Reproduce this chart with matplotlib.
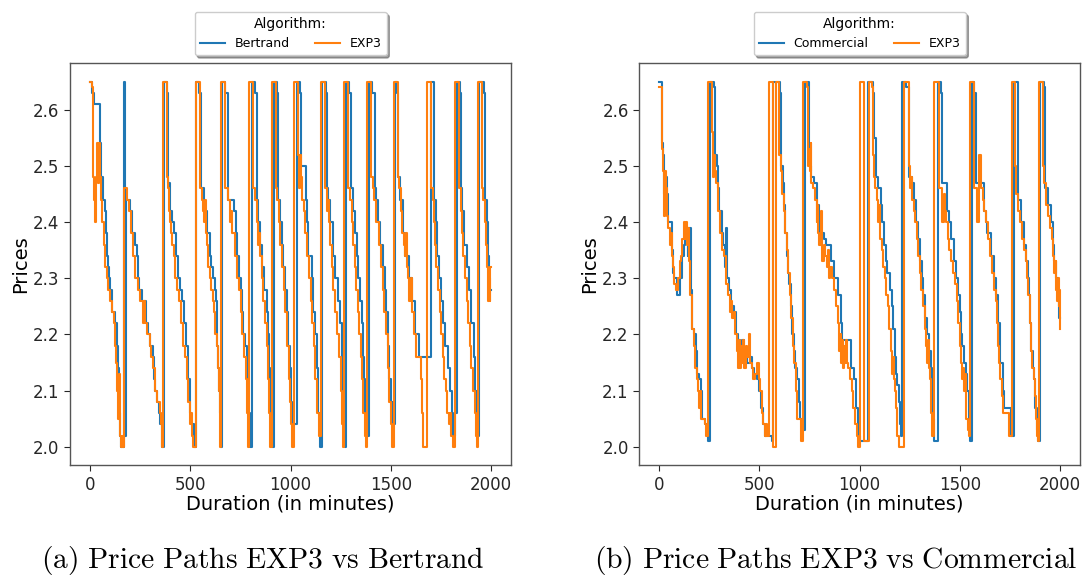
import numpy as np
import matplotlib
matplotlib.use("Agg")
import matplotlib.pyplot as plt

plt.rcParams['mathtext.fontset'] = 'cm'
plt.rcParams['font.family'] = ['DejaVu Sans']

# ---- data: (minute, price) step knots ----
bertrand_a = [
    (0, 2.65), (10, 2.63), (20, 2.61), (48, 2.54), (57, 2.48), (63, 2.44), (73, 2.42), (80, 2.38), (85, 2.34),
    (90, 2.32), (96, 2.30), (101, 2.28), (110, 2.24), (123, 2.22), (133, 2.18), (138, 2.14), (143, 2.06),
    (150, 2.02), (155, 2.00), (168, 2.65), (174, 2.02), (180, 2.44), (198, 2.42), (209, 2.38), (223, 2.36),
    (234, 2.34), (239, 2.30), (244, 2.28), (259, 2.26), (278, 2.22), (289, 2.20), (301, 2.18), (314, 2.16),
    (319, 2.12), (326, 2.10), (336, 2.08), (342, 2.06), (351, 2.04), (361, 2.00),
    (367, 2.65), (384, 2.63), (389, 2.47), (397, 2.42), (409, 2.40), (419, 2.38), (431, 2.34), (439, 2.30),
    (447, 2.28), (459, 2.26), (469, 2.22), (480, 2.18), (489, 2.12), (497, 2.06), (505, 2.04), (519, 2.00),
    (530, 2.65), (542, 2.63), (552, 2.46), (569, 2.44), (575, 2.42), (585, 2.38), (597, 2.34), (605, 2.32),
    (613, 2.30), (622, 2.28), (627, 2.26), (633, 2.18), (640, 2.14), (644, 2.10), (648, 2.06), (653, 2.00),
    (660, 2.65), (673, 2.63), (686, 2.44), (720, 2.42), (726, 2.38), (731, 2.34), (743, 2.30), (753, 2.28),
    (760, 2.24), (765, 2.20), (773, 2.18), (781, 2.14), (786, 2.10), (790, 2.06), (798, 2.00),
    (806, 2.65), (823, 2.63), (831, 2.44), (840, 2.40), (848, 2.36), (860, 2.32), (869, 2.28), (881, 2.24),
    (889, 2.20), (894, 2.14), (898, 2.10), (902, 2.04), (906, 2.00),
    (916, 2.65), (931, 2.63), (939, 2.44), (948, 2.40), (956, 2.36), (964, 2.32), (972, 2.28), (981, 2.24),
    (989, 2.18), (995, 2.14), (1000, 2.08), (1006, 2.04),
    (1031, 2.65), (1047, 2.63), (1052, 2.50), (1075, 2.44), (1081, 2.40), (1089, 2.34), (1106, 2.30),
    (1114, 2.24), (1122, 2.20), (1130, 2.14), (1139, 2.06), (1147, 2.00),
    (1159, 2.65), (1177, 2.63), (1182, 2.46), (1189, 2.44), (1197, 2.40), (1214, 2.34), (1222, 2.30),
    (1235, 2.26), (1247, 2.22), (1255, 2.16), (1263, 2.10), (1268, 2.04), (1273, 2.00),
    (1278, 2.65), (1292, 2.63), (1302, 2.46), (1313, 2.42), (1322, 2.38), (1330, 2.34), (1338, 2.30),
    (1347, 2.26), (1355, 2.22), (1360, 2.16), (1365, 2.12), (1372, 2.06), (1378, 2.02),
    (1390, 2.65), (1405, 2.63), (1420, 2.46), (1426, 2.44), (1436, 2.40), (1448, 2.36), (1460, 2.32),
    (1470, 2.28), (1476, 2.24), (1486, 2.18), (1493, 2.12), (1503, 2.08), (1510, 2.04),
    (1523, 2.65), (1530, 2.63), (1536, 2.48), (1548, 2.44), (1559, 2.38), (1573, 2.34), (1589, 2.30),
    (1606, 2.26), (1623, 2.20), (1639, 2.16),
    (1700, 2.65), (1714, 2.63), (1718, 2.44), (1725, 2.40), (1731, 2.34), (1742, 2.30), (1752, 2.26),
    (1760, 2.22), (1772, 2.18), (1785, 2.14), (1797, 2.10), (1806, 2.06), (1812, 2.02), (1818, 2.06),
    (1830, 2.65), (1847, 2.63), (1850, 2.46), (1855, 2.42), (1864, 2.36), (1880, 2.32), (1892, 2.28),
    (1902, 2.22), (1913, 2.16), (1922, 2.10), (1930, 2.04), (1936, 2.02),
    (1942, 2.65), (1963, 2.63), (1972, 2.44), (1980, 2.40), (1985, 2.34), (1992, 2.28), (2000, 2.28),
]

exp3_a = [
    (0, 2.65), (8, 2.64), (14, 2.48), (19, 2.44), (26, 2.40), (31, 2.48), (35, 2.54), (39, 2.47), (43, 2.54),
    (48, 2.48), (54, 2.44), (62, 2.40), (70, 2.36), (77, 2.32), (84, 2.30), (92, 2.28), (100, 2.26),
    (108, 2.24), (118, 2.22), (126, 2.18), (131, 2.15), (135, 2.10), (139, 2.05), (143, 2.13), (147, 2.02),
    (152, 2.00), (158, 2.02), (165, 2.00), (171, 2.46), (186, 2.44), (196, 2.42), (206, 2.38), (216, 2.34),
    (226, 2.30), (238, 2.28), (250, 2.26), (262, 2.22), (268, 2.26), (274, 2.22), (284, 2.20), (298, 2.18),
    (306, 2.16), (314, 2.14), (326, 2.10), (336, 2.08), (347, 2.06), (355, 2.04), (360, 2.00),
    (364, 2.65), (382, 2.48), (389, 2.46), (395, 2.42), (400, 2.40), (406, 2.38), (410, 2.36), (418, 2.34),
    (425, 2.30), (435, 2.28), (445, 2.26), (455, 2.22), (465, 2.18), (475, 2.16), (483, 2.12), (490, 2.08),
    (498, 2.04), (505, 2.06), (510, 2.02), (515, 2.00),
    (527, 2.65), (547, 2.46), (557, 2.44), (562, 2.42), (566, 2.40), (572, 2.44), (576, 2.38), (583, 2.36),
    (590, 2.32), (597, 2.30), (605, 2.28), (612, 2.26), (618, 2.24), (625, 2.20), (632, 2.18), (638, 2.14),
    (642, 2.10), (646, 2.06), (650, 2.00),
    (653, 2.65), (673, 2.46), (688, 2.44), (697, 2.40), (703, 2.42), (710, 2.38), (722, 2.34), (735, 2.30),
    (745, 2.28), (752, 2.24), (760, 2.20), (768, 2.16), (776, 2.12), (782, 2.06), (786, 2.00),
    (793, 2.65), (815, 2.46), (823, 2.44), (832, 2.40), (838, 2.36), (843, 2.38), (848, 2.34), (856, 2.30),
    (865, 2.26), (873, 2.22), (881, 2.18), (889, 2.12), (895, 2.06), (900, 2.00),
    (906, 2.65), (928, 2.46), (935, 2.44), (943, 2.40), (950, 2.36), (958, 2.32), (966, 2.28), (975, 2.24),
    (983, 2.18), (991, 2.12), (997, 2.08), (1001, 2.04), (1008, 2.00),
    (1017, 2.65), (1039, 2.52), (1044, 2.46), (1048, 2.52), (1052, 2.48), (1058, 2.44), (1066, 2.42),
    (1073, 2.38), (1081, 2.34), (1090, 2.30), (1100, 2.26), (1108, 2.22), (1116, 2.18), (1124, 2.12),
    (1132, 2.06), (1140, 2.02),
    (1152, 2.65), (1172, 2.46), (1180, 2.42), (1186, 2.44), (1190, 2.40), (1198, 2.36), (1206, 2.32),
    (1214, 2.28), (1224, 2.24), (1234, 2.20), (1244, 2.16), (1252, 2.10), (1258, 2.04), (1262, 2.00),
    (1268, 2.65), (1288, 2.46), (1296, 2.44), (1305, 2.40), (1312, 2.36), (1320, 2.32), (1328, 2.28),
    (1336, 2.24), (1344, 2.20), (1352, 2.16), (1358, 2.12), (1364, 2.06), (1370, 2.02), (1375, 2.00),
    (1382, 2.65), (1403, 2.48), (1410, 2.46), (1418, 2.44), (1428, 2.40), (1440, 2.36), (1450, 2.32),
    (1460, 2.28), (1468, 2.24), (1476, 2.20), (1484, 2.14), (1492, 2.08), (1500, 2.04), (1506, 2.00),
    (1515, 2.65), (1535, 2.48), (1543, 2.46), (1550, 2.42), (1558, 2.38), (1565, 2.36), (1572, 2.34),
    (1576, 2.38), (1580, 2.32), (1588, 2.30), (1593, 2.26), (1600, 2.30), (1606, 2.24), (1615, 2.20),
    (1625, 2.16), (1640, 2.16), (1650, 2.12), (1656, 2.06), (1662, 2.00),
    (1681, 2.65), (1701, 2.46), (1710, 2.44), (1716, 2.40), (1722, 2.36), (1728, 2.32), (1736, 2.28),
    (1744, 2.24), (1752, 2.20), (1760, 2.16), (1768, 2.12), (1776, 2.10), (1782, 2.06), (1790, 2.04),
    (1796, 2.06), (1802, 2.02), (1810, 2.00),
    (1819, 2.65), (1839, 2.46), (1848, 2.42), (1855, 2.38), (1862, 2.34), (1870, 2.30), (1878, 2.26),
    (1886, 2.22), (1894, 2.18), (1902, 2.14), (1910, 2.10), (1918, 2.06), (1925, 2.02), (1930, 2.00),
    (1935, 2.65), (1955, 2.46), (1962, 2.44), (1968, 2.40), (1975, 2.36), (1980, 2.32), (1985, 2.26),
    (1990, 2.30), (1994, 2.26), (1997, 2.32), (2000, 2.32),
]

commercial_b = [
    (0, 2.65), (15, 2.54), (20, 2.52), (25, 2.45), (32, 2.48), (37, 2.45), (42, 2.40), (62, 2.35), (70, 2.31),
    (75, 2.30), (87, 2.27), (103, 2.30), (112, 2.34), (125, 2.36), (128, 2.37), (133, 2.39), (142, 2.34),
    (145, 2.39), (158, 2.28), (165, 2.21), (175, 2.20), (182, 2.17), (187, 2.13), (198, 2.12), (208, 2.10),
    (215, 2.05), (228, 2.04), (242, 2.01),
    (252, 2.65), (275, 2.64), (280, 2.52), (287, 2.50), (292, 2.46), (300, 2.42), (312, 2.38), (320, 2.36),
    (328, 2.32), (333, 2.39), (340, 2.30), (347, 2.28), (358, 2.25), (372, 2.24), (385, 2.20), (395, 2.19),
    (405, 2.16), (415, 2.19), (425, 2.17), (440, 2.15), (455, 2.16), (465, 2.14), (475, 2.13), (490, 2.12),
    (500, 2.10), (510, 2.07), (518, 2.04), (528, 2.02), (540, 2.03), (550, 2.02), (562, 2.01),
    (570, 2.65), (603, 2.63), (610, 2.50), (618, 2.47), (622, 2.43), (628, 2.38), (640, 2.34), (645, 2.31),
    (650, 2.29), (656, 2.25), (663, 2.20), (672, 2.17), (680, 2.14), (688, 2.12), (697, 2.08), (705, 2.05),
    (713, 2.03),
    (727, 2.65), (747, 2.50), (760, 2.48), (772, 2.47), (788, 2.43), (797, 2.38), (822, 2.37), (830, 2.36),
    (855, 2.33), (872, 2.30), (893, 2.27), (905, 2.22), (913, 2.19), (935, 2.19), (955, 2.14), (972, 2.12),
    (983, 2.07), (993, 2.02), (1003, 2.01),
    (1043, 2.65), (1067, 2.63), (1072, 2.55), (1080, 2.48), (1090, 2.46), (1105, 2.43), (1113, 2.40),
    (1122, 2.36), (1130, 2.33), (1138, 2.31), (1150, 2.28), (1160, 2.25), (1167, 2.21), (1175, 2.16),
    (1180, 2.13), (1188, 2.11), (1197, 2.08), (1202, 2.04), (1205, 2.02),
    (1213, 2.65), (1232, 2.64), (1247, 2.48), (1260, 2.47), (1272, 2.44), (1283, 2.40), (1292, 2.37),
    (1300, 2.33), (1310, 2.30), (1318, 2.27), (1327, 2.23), (1337, 2.20), (1347, 2.17), (1355, 2.14),
    (1363, 2.12), (1367, 2.05), (1372, 2.01),
    (1392, 2.65), (1405, 2.63), (1410, 2.47), (1438, 2.42), (1447, 2.40), (1455, 2.37), (1472, 2.33),
    (1483, 2.30), (1492, 2.27), (1500, 2.24), (1507, 2.20), (1513, 2.18), (1520, 2.15), (1530, 2.13),
    (1538, 2.10), (1545, 2.05), (1552, 2.01),
    (1562, 2.65), (1572, 2.63), (1580, 2.47), (1622, 2.42), (1630, 2.40), (1638, 2.38), (1655, 2.34),
    (1672, 2.30), (1680, 2.27), (1688, 2.22), (1702, 2.15), (1713, 2.10), (1722, 2.07), (1755, 2.02),
    (1768, 2.65), (1788, 2.64), (1790, 2.44), (1805, 2.40), (1822, 2.36), (1830, 2.33), (1838, 2.30),
    (1847, 2.27), (1850, 2.22), (1855, 2.17), (1865, 2.14), (1872, 2.12), (1877, 2.07), (1883, 2.03),
    (1888, 2.01),
    (1900, 2.65), (1922, 2.64), (1925, 2.46), (1938, 2.43), (1955, 2.40), (1963, 2.36), (1972, 2.33),
    (1980, 2.30), (1988, 2.28), (1993, 2.27), (1997, 2.23), (2000, 2.23),
]

exp3_b = [
    (0, 2.64), (12, 2.53), (17, 2.49), (22, 2.45), (25, 2.41), (28, 2.49), (32, 2.43), (35, 2.46), (40, 2.41),
    (45, 2.39), (52, 2.36), (58, 2.38), (62, 2.34), (68, 2.32), (75, 2.29), (85, 2.28), (95, 2.30),
    (102, 2.33), (108, 2.34), (115, 2.37), (122, 2.39), (126, 2.40), (130, 2.37), (134, 2.40), (138, 2.36),
    (142, 2.39), (148, 2.33), (155, 2.27), (165, 2.21), (172, 2.18), (180, 2.14), (187, 2.12), (195, 2.10),
    (200, 2.07), (205, 2.10), (210, 2.05), (228, 2.04), (236, 2.02),
    (245, 2.65), (266, 2.56), (270, 2.48), (274, 2.52), (280, 2.49), (286, 2.47), (294, 2.42), (304, 2.38),
    (314, 2.35), (324, 2.34), (334, 2.29), (344, 2.27), (352, 2.24), (358, 2.26), (365, 2.23), (372, 2.24),
    (380, 2.20), (390, 2.17), (395, 2.14), (398, 2.19), (402, 2.14), (408, 2.18), (413, 2.15), (418, 2.19),
    (425, 2.14), (432, 2.18), (440, 2.16), (448, 2.20), (455, 2.15), (462, 2.14), (470, 2.12), (480, 2.13),
    (490, 2.15), (498, 2.12), (505, 2.10), (512, 2.06), (520, 2.04), (528, 2.02), (535, 2.04), (540, 2.02),
    (550, 2.65), (566, 2.00), (582, 2.65),
    (600, 2.52), (608, 2.49), (615, 2.45), (622, 2.42), (630, 2.38), (638, 2.35), (645, 2.31), (652, 2.27),
    (660, 2.23), (668, 2.18), (675, 2.15), (682, 2.10), (688, 2.05), (710, 2.01),
    (720, 2.65), (738, 2.64), (742, 2.50), (748, 2.53), (752, 2.49), (756, 2.54), (760, 2.47), (768, 2.46),
    (780, 2.44), (786, 2.40), (790, 2.43), (795, 2.38), (800, 2.36), (806, 2.42), (810, 2.33), (820, 2.36),
    (828, 2.34), (835, 2.32), (840, 2.35), (847, 2.30), (853, 2.32), (860, 2.30), (870, 2.28), (880, 2.25),
    (890, 2.22), (897, 2.17), (902, 2.20), (906, 2.15), (910, 2.19), (915, 2.14), (920, 2.18), (925, 2.15),
    (930, 2.19), (935, 2.15), (940, 2.14), (950, 2.12), (960, 2.10), (968, 2.07), (975, 2.04), (985, 2.02),
    (992, 2.00), (1003, 2.65), (1023, 2.01),
    (1045, 2.65), (1062, 2.64), (1065, 2.52), (1070, 2.48), (1078, 2.46), (1085, 2.44), (1090, 2.40),
    (1098, 2.43), (1103, 2.37), (1110, 2.35), (1118, 2.32), (1125, 2.30), (1132, 2.27), (1140, 2.25),
    (1148, 2.21), (1155, 2.17), (1160, 2.13), (1165, 2.16), (1170, 2.12), (1175, 2.10), (1182, 2.07),
    (1188, 2.02), (1195, 2.00),
    (1222, 2.65), (1245, 2.50), (1252, 2.46), (1258, 2.48), (1263, 2.44), (1270, 2.42), (1278, 2.40),
    (1285, 2.37), (1292, 2.34), (1300, 2.31), (1308, 2.28), (1316, 2.25), (1325, 2.21), (1332, 2.18),
    (1336, 2.15), (1340, 2.19), (1345, 2.14), (1350, 2.12), (1355, 2.06), (1362, 2.02),
    (1372, 2.65), (1395, 2.46), (1413, 2.40), (1420, 2.45), (1425, 2.42), (1432, 2.40), (1440, 2.37),
    (1448, 2.35), (1455, 2.33), (1465, 2.31), (1475, 2.29), (1485, 2.26), (1492, 2.22), (1500, 2.18),
    (1507, 2.15), (1513, 2.12), (1518, 2.14), (1522, 2.10), (1527, 2.13), (1532, 2.05), (1540, 2.03),
    (1545, 2.02),
    (1550, 2.65), (1572, 2.46), (1588, 2.40), (1597, 2.52), (1608, 2.46), (1615, 2.44), (1622, 2.42),
    (1630, 2.40), (1640, 2.37), (1650, 2.34), (1660, 2.31), (1670, 2.28), (1678, 2.26), (1685, 2.22),
    (1690, 2.18), (1695, 2.15), (1702, 2.12), (1708, 2.09), (1715, 2.06), (1745, 2.02),
    (1758, 2.65), (1775, 2.50), (1782, 2.45), (1790, 2.42), (1800, 2.40), (1810, 2.37), (1820, 2.35),
    (1828, 2.33), (1835, 2.30), (1842, 2.27), (1850, 2.22), (1855, 2.17), (1862, 2.14), (1868, 2.12),
    (1873, 2.09), (1880, 2.05), (1885, 2.02), (1890, 2.01),
    (1893, 2.65), (1913, 2.50), (1920, 2.47), (1930, 2.43), (1940, 2.41), (1950, 2.39), (1958, 2.37),
    (1965, 2.34), (1972, 2.31), (1978, 2.33), (1982, 2.28), (1987, 2.26), (1990, 2.30), (1993, 2.25),
    (1996, 2.28), (1998, 2.21), (2000, 2.21),
]

panels = [
    ("Bertrand", bertrand_a, exp3_a, r"$\mathrm{(a)\ Price\ Paths\ EXP3\ vs\ Bertrand}$"),
    ("Commercial", commercial_b, exp3_b, r"$\mathrm{(b)\ Price\ Paths\ EXP3\ vs\ Commercial}$"),
]
axes_rects = [[0.0645, 0.191, 0.4065, 0.699], [0.589, 0.191, 0.4065, 0.699]]
caption_x = [0.2425, 0.770]

BLUE = "#1f77b4"
ORANGE = "#ff7f0e"

fig = plt.figure(figsize=(10.85, 5.75), dpi=100)
for (name, base, exp3, caption), rect, cx in zip(panels, axes_rects, caption_x):
    ax = fig.add_axes(rect)
    b = np.array(base)
    e = np.array(exp3)
    ax.step(b[:, 0], b[:, 1], where="post", color=BLUE, lw=1.5, label=name)
    ax.step(e[:, 0], e[:, 1], where="post", color=ORANGE, lw=1.5, label="EXP3")
    ax.set_xticks([0, 500, 1000, 1500, 2000])
    ax.set_yticks([2.0, 2.1, 2.2, 2.3, 2.4, 2.5, 2.6])
    ax.tick_params(labelsize=12, colors="#262626", length=4)
    for s in ax.spines.values():
        s.set_color("#555555")
        s.set_linewidth(1.0)
    ax.set_xlabel("Duration (in minutes)", fontsize=14, labelpad=1)
    ax.set_ylabel("Prices", fontsize=14, labelpad=2)
    ax.legend(title="Algorithm:", ncol=2, loc="lower center", bbox_to_anchor=(0.5, 1.02),
              fontsize=9, title_fontsize=10, frameon=True, fancybox=True, shadow=True,
              handlelength=2.0, columnspacing=2.0, borderaxespad=0.0)
    fig.text(cx, 0.026, caption, ha="center", va="center", fontsize=21.3)

fig.savefig("out.png", dpi=100)
